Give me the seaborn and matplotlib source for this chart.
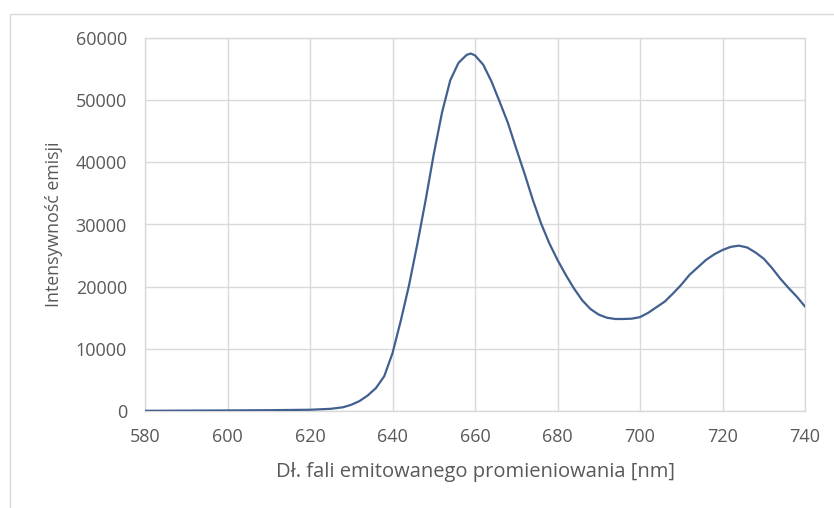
import matplotlib
matplotlib.use("Agg")
import matplotlib.pyplot as plt
import matplotlib.lines as mlines
import seaborn as sns
import pandas as pd

wavelength_nm = [580, 590, 600, 610, 620, 625, 628, 630, 632, 634, 636, 638, 640,
                 642, 644, 646, 648, 650, 652, 654, 656, 658, 659, 660, 662, 664,
                 666, 668, 670, 672, 674, 676, 678, 680, 682, 684, 686, 688, 690,
                 692, 694, 696, 698, 700, 702, 704, 706, 708, 710, 712, 714, 716,
                 718, 720, 722, 724, 726, 728, 730, 732, 734, 736, 738, 740]
intensity = [30, 60, 90, 130, 200, 350, 600, 1000, 1600, 2500, 3700, 5600, 9300,
             14500, 20200, 26800, 33800, 41300, 48000, 53200, 56000, 57300, 57500,
             57200, 55700, 53000, 49700, 46300, 42200, 38200, 34000, 30200, 27000,
             24300, 21900, 19700, 17800, 16400, 15500, 15000, 14800, 14800, 14850,
             15100, 15800, 16700, 17600, 18900, 20300, 21900, 23100, 24300, 25200,
             25900, 26400, 26600, 26300, 25500, 24500, 23000, 21300, 19800, 18400,
             16800]
x_ticks = [580, 600, 620, 640, 660, 680, 700, 720, 740]
y_ticks = [0, 10000, 20000, 30000, 40000, 50000, 60000]
x_label = "Dł. fali emitowanego promieniowania [nm]"
y_label = "Intensywność emisji"

sns.set_theme(style="white")
plt.rcParams['font.family'] = ['Open Sans', 'DejaVu Sans']

df = pd.DataFrame({"wl": wavelength_nm, "I": intensity})

fig = plt.figure(figsize=(8.34, 5.08), dpi=100)
ax = fig.add_axes([145/834, 1-411/508, 660/834, 373/508])

sns.lineplot(data=df, x="wl", y="I", ax=ax, color="#41608F", linewidth=1.6, zorder=3)

ax.set_xlim(580, 740)
ax.set_ylim(0, 60000)
ax.set_xticks(x_ticks)
ax.set_yticks(y_ticks)
ax.set_xticklabels([str(t) for t in x_ticks])
ax.set_yticklabels([str(t) for t in y_ticks])
ax.grid(True, color="#D9D9D9", linewidth=1.0, zorder=0)
ax.set_axisbelow(True)
for s in ax.spines.values():
    s.set_visible(True)
    s.set_color("#D9D9D9")
    s.set_linewidth(1.0)
ax.tick_params(axis="both", length=0, labelsize=13, colors="#595959")
ax.tick_params(axis="y", pad=13)
ax.tick_params(axis="x", pad=12)
ax.set_xlabel(x_label, fontsize=14.5, color="#595959")
ax.set_ylabel(y_label, fontsize=12.8, color="#595959")
ax.xaxis.set_label_coords(0.5, (411-462)/373)
ax.yaxis.set_label_coords((63-145)/660, 0.5)

fig.add_artist(mlines.Line2D([9.5/834, 1.0], [1-13.5/508, 1-13.5/508],
                             transform=fig.transFigure, color="#D9D9D9", linewidth=1.0))
fig.add_artist(mlines.Line2D([9.5/834, 9.5/834], [1-13.5/508, 0.0],
                             transform=fig.transFigure, color="#D9D9D9", linewidth=1.0))

fig.savefig("out.png", dpi=100)
